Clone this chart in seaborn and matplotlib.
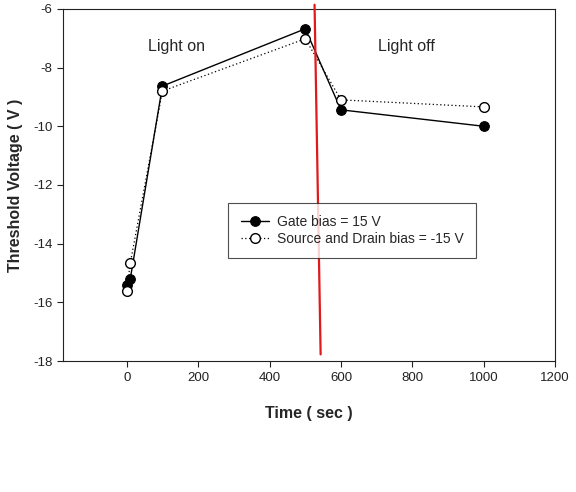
import pandas as pd
import matplotlib.pyplot as plt
import seaborn as sns

# data
time_sec = [0, 10, 100, 500, 600, 1000]
gate_bias = [-15.4, -15.2, -8.63, -6.68, -9.44, -10.0]
sd_bias = [-15.6, -14.66, -8.8, -7.02, -9.1, -9.34]
y_ticks = [-18, -16, -14, -12, -10, -8, -6]
x_ticks = [0, 200, 400, 600, 800, 1000, 1200]
red_x = [526, 543]
red_y = [-5.86, -17.77]

sns.set_style("ticks")
plt.rcParams['font.family'] = ['Liberation Sans', 'DejaVu Sans']
plt.rcParams['axes.unicode_minus'] = False

df = pd.DataFrame({"Time": time_sec, "Gate": gate_bias, "SD": sd_bias})

fig = plt.figure(figsize=(5.76, 4.92), dpi=100)
ax = fig.add_axes([0.109, 0.266, 0.855, 0.716])

sns.lineplot(data=df, x="Time", y="Gate", ax=ax, color="black", lw=1.0,
             marker="o", markersize=7, markerfacecolor="black",
             markeredgecolor="black", label="Gate bias = 15 V")
sns.lineplot(data=df, x="Time", y="SD", ax=ax, color="black", lw=0.9,
             linestyle=(0, (1, 2)), marker="o", markersize=7,
             markerfacecolor="white", markeredgecolor="black",
             markeredgewidth=1.0, label="Source and Drain bias = -15 V")

ax.plot(red_x, red_y, color="#e0191b", lw=1.6, clip_on=False, zorder=5)

ax.text(140, -7.28, "Light on", ha="center", va="center", fontsize=11.5)
ax.text(783, -7.28, "Light off", ha="center", va="center", fontsize=11.5)

ax.set_xlim(-179, 1200)
ax.set_ylim(-18, -6)
ax.set_xticks(x_ticks)
ax.set_yticks(y_ticks)
ax.tick_params(labelsize=9.5, direction="out", length=4, width=0.8,
               colors="#222222")
for s in ax.spines.values():
    s.set_linewidth(0.8)
    s.set_color("#222222")

ax.set_xlabel("Time ( sec )", fontsize=11.5, fontweight="bold", labelpad=16)
ax.set_ylabel("Threshold Voltage ( V )", fontsize=11.5, fontweight="bold",
              labelpad=7)

leg = ax.legend(loc="upper left", bbox_to_anchor=(0.322, 0.47),
                fontsize=10, frameon=True, fancybox=False, handlelength=2.0,
                borderpad=0.9, labelspacing=0.2, handletextpad=0.6)
leg.get_frame().set_edgecolor("#222222")
leg.get_frame().set_linewidth(0.8)

plt.savefig("out.png", dpi=100)
